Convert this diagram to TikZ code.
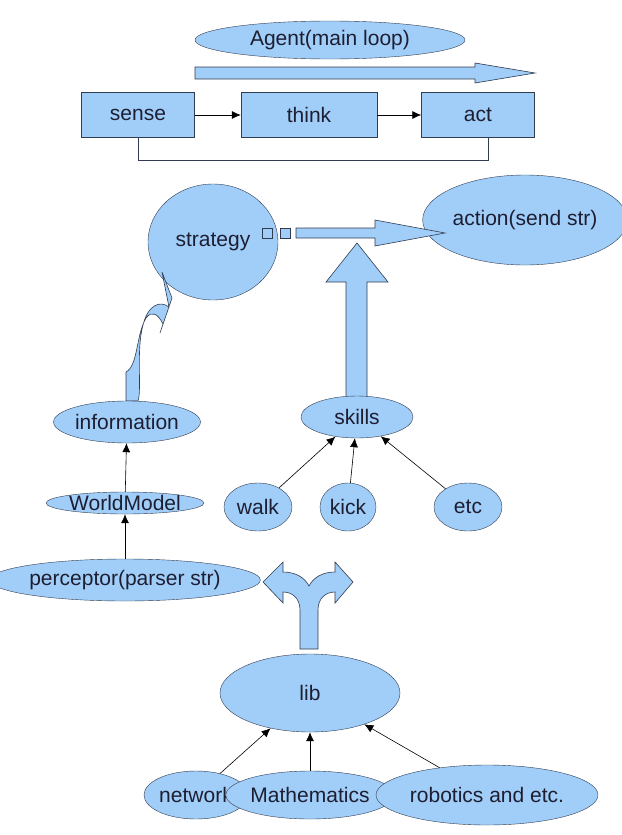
\documentclass[tikz,border=0pt]{standalone}
\usepackage{fontspec}
\setmainfont{Liberation Sans}
\usetikzlibrary{shapes.geometric,arrows.meta}
\definecolor{boxfill}{RGB}{160,206,248}
\definecolor{boxline}{RGB}{50,60,80}
\definecolor{inktext}{RGB}{30,30,50}
\begin{document}
\begin{tikzpicture}[x=1pt,y=-1pt,line join=miter,
  every node/.style={font=\fontsize{21}{23}\selectfont,text=inktext},
  oval/.style={draw=boxline,fill=boxfill,ellipse,inner sep=0pt},
  tile/.style={draw=boxline,fill=boxfill,rectangle,inner sep=0pt,minimum width=113pt,minimum height=45pt},
  blockarrow/.style={draw=boxline,fill=boxfill,line width=0.6pt},
  link/.style={-{Latex[length=9pt,width=8pt]},black,line width=0.6pt}]
\useasboundingbox (0,0) rectangle (621,835);
%% main loop
\node (agent) at (330,40) [oval,minimum width=270pt,minimum height=38pt] {Agent(main loop)};
\draw [blockarrow] (195,67) -- (475,67) -- (475,63) -- (535,73) -- (475,83) -- (475,79) -- (195,79) -- cycle;
\node (sense) at (138,115) [tile] {sense};
\node (think) at (309,115) [tile,minimum width=136pt] {think};
\node (act) at (478,115) [tile] {act};
\coordinate (fb1) at (138,160);
\coordinate (fb2) at (488,160);
\draw [link] (sense) -- (think);
\draw [link] (think) -- (act);
\draw [boxline,line width=0.6pt] (sense.south) -- (fb1) -- (fb2) -- (act.south-|fb2);
%% decision
\node (strategy) at (213,242) [oval,minimum width=130pt,minimum height=116pt] {strategy};
\node (action) at (525,220) [oval,minimum width=155pt,minimum height=90pt] {action(send str)};
\draw [blockarrow] (262,228) rectangle (272,238);
\draw [blockarrow] (280,228) rectangle (290,238);
\draw [blockarrow] (296,228) -- (375,228) -- (375,220) -- (445,233) -- (375,246) -- (375,238) -- (296,238) -- cycle;
\draw [blockarrow] (126,401) -- (126,372) .. controls (138,366) and (136,335) .. (146,318)
  .. controls (152,310) and (158,314) .. (163,324) -- (160,333) -- (172,298) -- (162,272) -- (169,307)
  .. controls (160,300) and (148,305) .. (143,325) .. controls (136,350) and (142,390) .. (138,401) -- cycle;
\draw [blockarrow] (346,400) -- (346,282) -- (326,282) -- (357,243) -- (388,282) -- (367,282) -- (367,400) -- cycle;
%% world model
\node (information) at (127,422) [oval,minimum width=135pt,minimum height=42pt] {information};
\node (worldmodel) at (125,503) [oval,minimum width=135pt,minimum height=22pt] {WorldModel};
\node (perceptor) at (125,580) [oval,minimum width=225pt,minimum height=42pt] {perceptor(parser str)};
\draw [link] (perceptor) -- (worldmodel);
\draw [link] (worldmodel) -- (information);
%% skills
\node (skills) at (357,417) [oval,minimum width=112pt,minimum height=42pt] {skills};
\node (walk) at (258,507) [oval,minimum width=68pt,minimum height=48pt] {walk};
\node (kick) at (348,507) [oval,minimum width=56pt,minimum height=48pt] {kick};
\node (etc) at (468,507) [oval,minimum width=68pt,minimum height=48pt] {etc};
\draw [link] (walk) -- (skills);
\draw [link] (kick) -- (skills);
\draw [link] (etc) -- (skills);
%% library
\draw [blockarrow] (300,649) -- (300,610) .. controls (300,598) and (292,592) .. (283,592) -- (283,603) -- (263,582)
  -- (283,562) -- (283,572) .. controls (296,572) and (305,578) .. (309,586) .. controls (313,578) and (322,572) .. (335,572)
  -- (335,562) -- (353,582) -- (335,603) -- (335,592) .. controls (326,592) and (318,598) .. (318,610) -- (318,649) -- cycle;
\node (lib) at (310,693) [oval,minimum width=180pt,minimum height=78pt] {lib};
\node (network) at (196,795) [oval,minimum width=88pt,minimum height=48pt] {network};
\node (maths) at (310,795) [oval,minimum width=130pt,minimum height=48pt] {Mathematics};
\node (robotics) at (487,795) [oval,minimum width=222pt,minimum height=60pt] {robotics and etc.};
\draw [link] (network) -- (lib);
\draw [link] (maths) -- (lib);
\draw [link] (robotics) -- (lib);
%
\end{tikzpicture}
\end{document}
